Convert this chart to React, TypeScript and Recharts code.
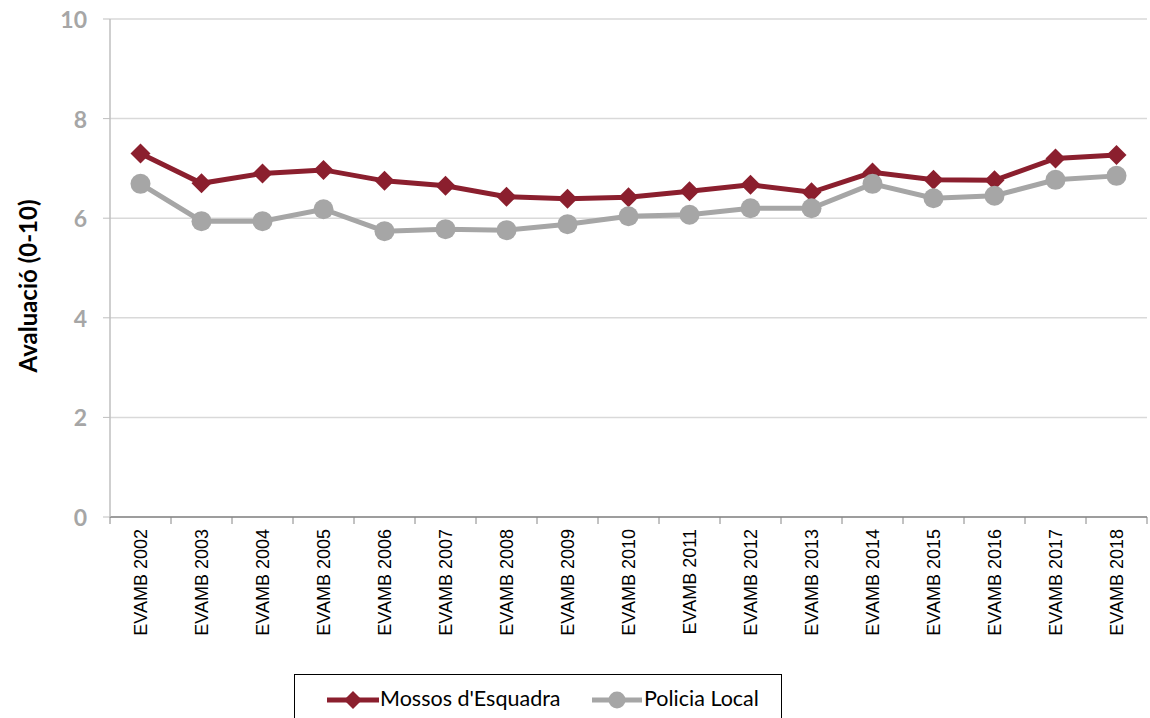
import React from "react"
import { LineChart, Line, XAxis, YAxis, CartesianGrid } from "recharts"

const years = [
  "EVAMB 2002", "EVAMB 2003", "EVAMB 2004", "EVAMB 2005", "EVAMB 2006", "EVAMB 2007",
  "EVAMB 2008", "EVAMB 2009", "EVAMB 2010", "EVAMB 2011", "EVAMB 2012", "EVAMB 2013",
  "EVAMB 2014", "EVAMB 2015", "EVAMB 2016", "EVAMB 2017", "EVAMB 2018",
]
const mossos = [7.3, 6.7, 6.9, 6.97, 6.75, 6.65, 6.43, 6.39, 6.42, 6.54, 6.67, 6.52, 6.92, 6.77, 6.76, 7.2, 7.27]
const policia = [6.69, 5.94, 5.94, 6.18, 5.74, 5.78, 5.76, 5.88, 6.04, 6.07, 6.2, 6.2, 6.69, 6.4, 6.45, 6.77, 6.85]
const yTicks = [0, 2, 4, 6, 8, 10]

const data = years.map((year, i) => ({ year, mossos: mossos[i], policia: policia[i] }))

const RED = "#8b1f2e"
const GREY = "#a6a6a6"
const HALF_BAND = 30.5

const Diamond = (props: any) => {
  const { cx, cy } = props
  if (cx == null || cy == null) return null
  const s = 10
  return <polygon points={`${cx},${cy - s} ${cx + s},${cy} ${cx},${cy + s} ${cx - s},${cy}`} fill={RED} />
}

const Dot = (props: any) => {
  const { cx, cy } = props
  if (cx == null || cy == null) return null
  return <circle cx={cx} cy={cy} r={10} fill={GREY} />
}

const XTick = (props: any) => {
  const { x, y, payload, index } = props
  const last = index === years.length - 1
  return (
    <g>
      <line x1={x - HALF_BAND} x2={x - HALF_BAND} y1={y} y2={y + 7} stroke="#868686" />
      {last && <line x1={x + HALF_BAND} x2={x + HALF_BAND} y1={y} y2={y + 7} stroke="#868686" />}
      <text
        x={x}
        y={y + 12}
        transform={`rotate(-90, ${x}, ${y + 12})`}
        textAnchor="end"
        dominantBaseline="central"
        fontFamily="'Liberation Sans', Arial, sans-serif"
        fontSize={18}
        fill="#000"
      >
        {payload.value}
      </text>
    </g>
  )
}

const YTick = (props: any) => {
  const { x, y, payload } = props
  return (
    <text
      x={x}
      y={y}
      textAnchor="end"
      dominantBaseline="central"
      fontFamily="Lato, sans-serif"
      fontWeight="bold"
      fontSize={23}
      fill={GREY}
    >
      {payload.value}
    </text>
  )
}

const YTitle = (props: any) => {
  const vb = props.viewBox || {}
  const cy = (vb.y ?? 19) + (vb.height ?? 498) / 2 + 18
  return (
    <text
      x={27}
      y={cy}
      transform={`rotate(-90, 27, ${cy})`}
      textAnchor="middle"
      dominantBaseline="central"
      fontFamily="Lato, sans-serif"
      fontWeight="bold"
      fontSize={24}
      fill="#000"
    >
      Avaluació (0-10)
    </text>
  )
}

export default function App() {
  return (
    <div style={{ position: "absolute", left: 0, top: 0, width: 1150, height: 718, background: "#fff", overflow: "hidden" }}>
      <LineChart width={1150} height={718} data={data} margin={{ top: 19, right: 3, bottom: 171, left: 0 }}>
        <CartesianGrid vertical={false} stroke="#d9d9d9" strokeWidth={1.5} />
        <XAxis
          dataKey="year"
          interval={0}
          height={30}
          padding={{ left: HALF_BAND, right: HALF_BAND }}
          tickLine={false}
          tickSize={0}
          tickMargin={0}
          axisLine={{ stroke: "#868686", strokeWidth: 1.5 }}
          tick={<XTick />}
        />
        <YAxis
          width={110}
          domain={[0, 10]}
          ticks={yTicks}
          tickSize={7}
          tickMargin={16}
          axisLine={{ stroke: "#bfbfbf", strokeWidth: 1.5 }}
          tickLine={{ stroke: "#bfbfbf" }}
          tick={<YTick />}
          label={<YTitle />}
        />
        <Line
          dataKey="mossos"
          stroke={RED}
          strokeWidth={5}
          dot={<Diamond />}
          activeDot={false}
          isAnimationActive={false}
        />
        <Line
          dataKey="policia"
          stroke={GREY}
          strokeWidth={5}
          dot={<Dot />}
          activeDot={false}
          isAnimationActive={false}
        />
      </LineChart>
      <div
        style={{
          position: "absolute",
          left: 294,
          top: 674,
          width: 488,
          height: 60,
          border: "1.5px solid #000",
          boxSizing: "border-box",
          background: "#fff",
          fontFamily: "Lato, sans-serif",
          fontSize: 21.5,
          color: "#000",
        }}
      >
        <svg width={52} height={20} style={{ position: "absolute", left: 32, top: 15 }}>
          <line x1={0} x2={52} y1={10} y2={10} stroke={RED} strokeWidth={5} />
          <polygon points="26,1 35,10 26,19 17,10" fill={RED} />
        </svg>
        <span style={{ position: "absolute", left: 85, top: 10 }}>Mossos d'Esquadra</span>
        <svg width={50} height={20} style={{ position: "absolute", left: 297, top: 15 }}>
          <line x1={0} x2={50} y1={10} y2={10} stroke={GREY} strokeWidth={5} />
          <circle cx={25} cy={10} r={8.5} fill={GREY} />
        </svg>
        <span style={{ position: "absolute", left: 349, top: 10 }}>Policia Local</span>
      </div>
    </div>
  )
}
